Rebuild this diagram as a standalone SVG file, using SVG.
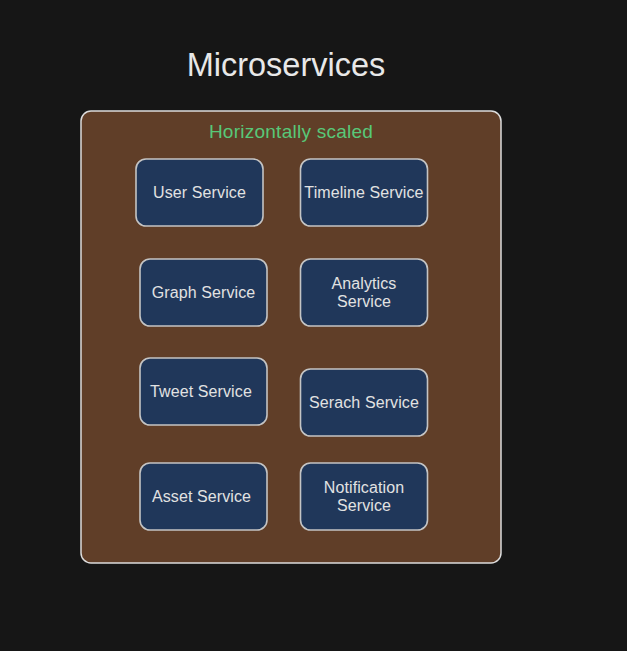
<svg xmlns="http://www.w3.org/2000/svg" width="627" height="651" viewBox="0 0 627 651">
<style>
text{font-family:"Liberation Sans",Arial,sans-serif;text-anchor:middle;fill:#e2e2e2}
.n{fill:#20375a;stroke:#c4c4c4;stroke-width:1.6}
.l{font-size:16px;letter-spacing:.1px}
</style>
<rect width="627" height="651" fill="#161616"/>
<g id="connectors"/>
<text id="title" x="286" y="76" style="font-size:32.500px;fill:#e8e8e8">Microservices</text>
<g id="group-box">
<rect x="81" y="111" width="420" height="452" rx="10" fill="#603e28" stroke="#dcdcdc" stroke-width="1.500"/>
<text x="291" y="138" style="font-size:19px;letter-spacing:.25px;fill:#58c878">Horizontally scaled</text>
</g>
<g id="user-service"><rect class="n" x="136" y="159" width="127" height="67" rx="10"/><text class="l" x="199.500" y="197.600">User Service</text></g>
<g id="timeline-service"><rect class="n" x="300.500" y="159" width="127" height="67" rx="10"/><text class="l" x="364" y="197.600">Timeline Service</text></g>
<g id="graph-service"><rect class="n" x="140" y="259" width="127" height="67" rx="10"/><text class="l" x="203.500" y="297.600">Graph Service</text></g>
<g id="analytics-service"><rect class="n" x="300.500" y="259" width="127" height="67" rx="10"/><text class="l" x="364" y="289.300">Analytics</text><text class="l" x="364" y="306.800">Service</text></g>
<g id="tweet-service"><rect class="n" x="140" y="358" width="127" height="67" rx="10"/><text class="l" x="201" y="396.600">Tweet Service</text></g>
<g id="search-service"><rect class="n" x="300.500" y="369" width="127" height="67" rx="10"/><text class="l" x="364" y="407.600">Serach Service</text></g>
<g id="asset-service"><rect class="n" x="140" y="463" width="127" height="67" rx="10"/><text class="l" x="201.500" y="501.600">Asset Service</text></g>
<g id="notification-service"><rect class="n" x="300.500" y="463" width="127" height="67" rx="10"/><text class="l" x="364" y="493.300">Notification</text><text class="l" x="364" y="510.800">Service</text></g>
</svg>
